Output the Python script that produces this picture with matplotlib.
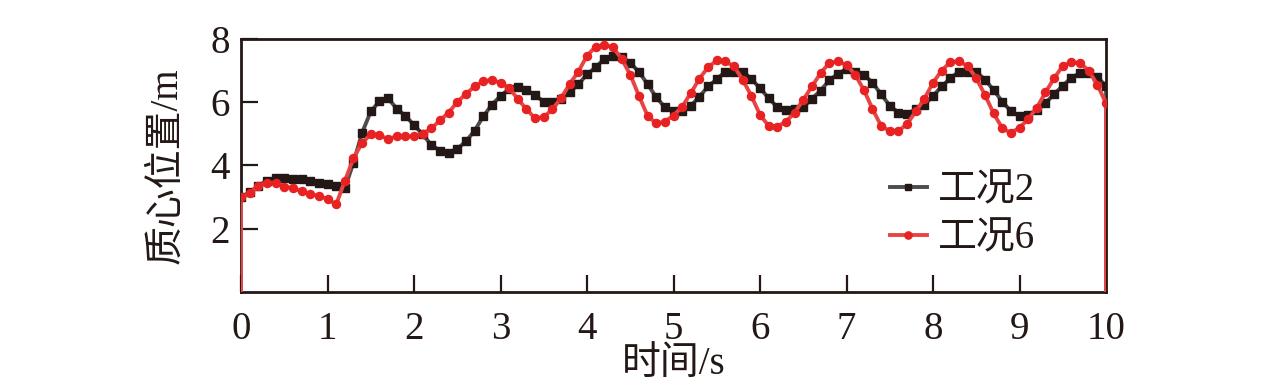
import numpy as np
import matplotlib
matplotlib.use("Agg")
import matplotlib.pyplot as plt

plt.rcParams['font.family'] = ['Liberation Serif', 'Noto Sans CJK SC', 'DejaVu Sans']
plt.rcParams['mathtext.fontset'] = 'stix'

# time axis (s), sampled every 0.1 s
time_s = [round(0.1 * i, 1) for i in range(101)]

# 工况2 (black squares)
case2 = [3.00, 3.15, 3.35, 3.52, 3.60, 3.60, 3.57, 3.56, 3.50, 3.46,
         3.42, 3.36, 3.28, 4.09, 5.04, 5.71, 6.03, 6.12, 5.80, 5.57,
         5.28, 4.98, 4.65, 4.47, 4.41, 4.53, 4.76, 5.10, 5.55, 5.92,
         6.20, 6.42, 6.47, 6.39, 6.22, 6.02, 6.00, 6.10, 6.32, 6.57,
         6.88, 7.11, 7.37, 7.45, 7.44, 7.24, 6.96, 6.57, 6.16, 5.84,
         5.72, 5.71, 5.89, 6.18, 6.50, 6.73, 6.97, 6.95, 6.97, 6.74,
         6.44, 6.13, 5.84, 5.74, 5.79, 5.84, 6.11, 6.37, 6.69, 6.90,
         7.05, 6.97, 6.87, 6.62, 6.25, 5.89, 5.67, 5.63, 5.78, 5.92,
         6.20, 6.50, 6.76, 6.97, 6.95, 6.97, 6.71, 6.39, 6.02, 5.72,
         5.55, 5.60, 5.76, 5.97, 6.26, 6.52, 6.78, 6.92, 6.92, 6.81,
         6.50]

# 工况6 (red circles)
case6 = [3.00, 3.12, 3.35, 3.46, 3.45, 3.33, 3.29, 3.18, 3.09, 3.04,
         2.94, 2.77, 3.51, 4.23, 4.72, 4.98, 4.95, 4.84, 4.92, 4.92,
         4.92, 5.00, 5.17, 5.43, 5.67, 6.01, 6.26, 6.50, 6.66, 6.71,
         6.61, 6.45, 6.10, 5.78, 5.49, 5.53, 5.78, 6.13, 6.58, 6.97,
         7.47, 7.76, 7.81, 7.74, 7.37, 6.87, 6.20, 5.57, 5.33, 5.39,
         5.58, 5.86, 6.29, 6.75, 7.11, 7.32, 7.29, 7.13, 6.71, 6.20,
         5.60, 5.25, 5.23, 5.39, 5.67, 6.08, 6.50, 6.92, 7.24, 7.29,
         7.18, 6.87, 6.39, 5.79, 5.25, 5.09, 5.09, 5.31, 5.71, 6.11,
         6.62, 7.00, 7.27, 7.29, 7.15, 6.76, 6.23, 5.65, 5.18, 5.03,
         5.20, 5.46, 5.83, 6.31, 6.76, 7.15, 7.26, 7.24, 7.00, 6.55,
         5.97]

# the recorded traces start from and return to zero at the ends
start_end_value = 0.0

labels = ['工况2', '工况6']
x_ticks = list(range(0, 11))
y_ticks = [2, 4, 6, 8]

fig = plt.figure(figsize=(12.76, 3.91), dpi=100)
ax = fig.add_axes([0.1889, 0.2532, 0.8668 - 0.1889, 0.9003 - 0.2532])

def trace(vals):
    x = [time_s[0]] + time_s + [time_s[-1]]
    y = [start_end_value] + vals + [start_end_value]
    return x, y

x2, y2 = trace(case2)
x6, y6 = trace(case6)
n = len(x2)

ax.plot(x2, y2, color='#4d4d4d', lw=2.8, marker='s', markersize=5.2,
        markerfacecolor='#231815', markeredgecolor='#231815',
        markevery=list(range(1, n - 1)), label=labels[0], zorder=3)
ax.plot(x6, y6, color='#e84444', lw=2.8, marker='o', markersize=5.8,
        markerfacecolor='#e82222', markeredgecolor='#e82222',
        markevery=list(range(1, n - 1)), label=labels[1], zorder=4)

ax.set_xlim(0, 10)
ax.set_ylim(0, 8)
ax.set_xticks(x_ticks)
ax.set_xticklabels([str(v) for v in x_ticks])
ax.set_yticks(y_ticks)
ax.set_yticklabels([str(v) for v in y_ticks])

for s in ax.spines.values():
    s.set_linewidth(2.0)
    s.set_color('#231815')

ax.tick_params(axis='both', direction='in', length=12, width=1.6,
               colors='#231815', labelsize=28, labelcolor='#231815')
ax.tick_params(axis='x', pad=14)
ax.tick_params(axis='y', pad=8)

ax.set_xlabel('时间/s', fontsize=28, color='#231815', labelpad=-2)
ax.set_ylabel('质心位置/m', fontsize=28, color='#231815', labelpad=18)

leg = ax.legend(loc='upper left', bbox_to_anchor=(0.732, 0.535), frameon=False,
                fontsize=28, handlelength=0.95, handletextpad=0.3,
                labelspacing=0.3, borderaxespad=0, markerscale=0.9)
for t in leg.get_texts():
    t.set_color('#231815')

fig.savefig('out.png', dpi=100)
